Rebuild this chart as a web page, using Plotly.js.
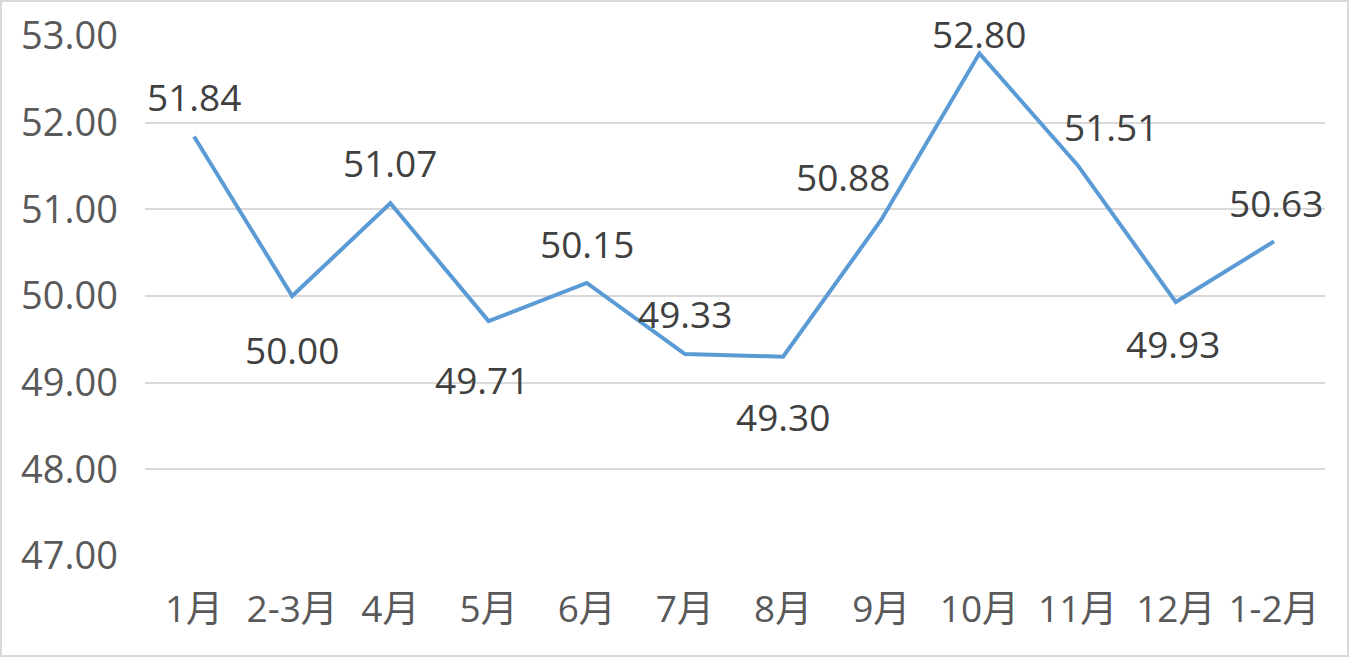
<!DOCTYPE html>
<html>
<head>
<meta charset="utf-8">
<script src="https://cdn.plot.ly/plotly-3.0.1.min.js"></script>
<style>
html,body{margin:0;padding:0;background:#fff;}
#chart{width:1349px;height:657px;box-sizing:border-box;border:2px solid #d9d9d9;}
</style>
</head>
<body>
<div id="chart"></div>
<script>
const months = ["1月","2-3月","4月","5月","6月","7月","8月","9月","10月","11月","12月","1-2月"];
const values = [51.84, 50.00, 51.07, 49.71, 50.15, 49.33, 49.30, 50.88, 52.80, 51.51, 49.93, 50.63];
const yTicks = [47, 48, 49, 50, 51, 52, 53];

// label offsets (px) relative to each point
const labelDX = [0, 0, 0, -7, 0, 0, 0, -38, 0, 33, -3, 2];
const labelDY = [40, -53, 41, -58, 40, 41, -60, 43, 20, 39, -41, 39];

const fontFam = '"Open Sans", "Noto Sans CJK SC", sans-serif';

const annotations = months.map((m, i) => ({
  x: m, y: values[i], xref: 'x', yref: 'y',
  text: values[i].toFixed(2), showarrow: false,
  xshift: labelDX[i], yshift: labelDY[i],
  xanchor: 'center', yanchor: 'middle',
  font: {family: fontFam, size: 37, color: '#404040'}
}));

const trace = {
  x: months, y: values, type: 'scatter', mode: 'lines',
  line: {color: '#5B9BD5', width: 4},
  cliponaxis: false, hoverinfo: 'skip'
};

const layout = {
  width: 1345, height: 653,
  margin: {l: 143, r: 22, t: 34, b: 99},
  paper_bgcolor: '#ffffff', plot_bgcolor: '#ffffff',
  showlegend: false,
  xaxis: {
    type: 'category', showgrid: false, zeroline: false,
    showline: false, ticks: '',
    tickfont: {family: fontFam, size: 37, color: '#595959'},
    ticklabelstandoff: 28
  },
  yaxis: {
    range: [47, 53], tickvals: yTicks, ticktext: yTicks.map(v => v.toFixed(2)),
    showgrid: true, gridcolor: '#d9d9d9', gridwidth: 2, zeroline: false,
    showline: false, ticks: '',
    tickfont: {family: fontFam, size: 38, color: '#595959'},
    ticklabelstandoff: 26
  },
  annotations: annotations
};

Plotly.newPlot('chart', [trace], layout, {displayModeBar: false, staticPlot: true});
</script>
</body>
</html>
